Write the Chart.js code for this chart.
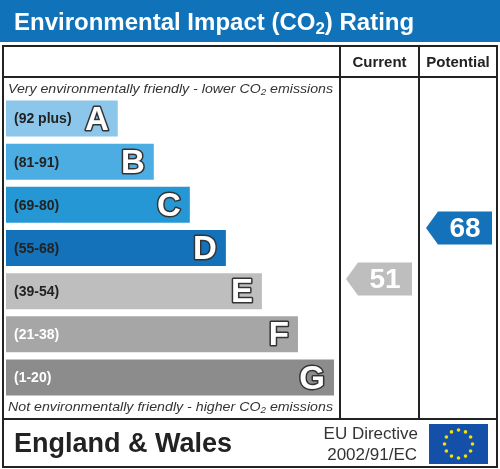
<!DOCTYPE html>
<html>
<head>
<meta charset="utf-8">
<script src="https://cdn.jsdelivr.net/npm/chart.js@4.4.1/dist/chart.umd.min.js"></script>
<style>
  html, body { margin: 0; padding: 0; background: #fff; }
  canvas { display: block; }
</style>
</head>
<body>
<canvas id="co2Chart" width="500" height="469"></canvas>
<script>
// Bands, top (best) to bottom (worst)
const bands = ['A', 'B', 'C', 'D', 'E', 'F', 'G'];
const bandRanges = ['(92 plus)', '(81-91)', '(69-80)', '(55-68)', '(39-54)', '(21-38)', '(1-20)'];
const bandMin = [92, 81, 69, 55, 39, 21, 1];
const bandMax = [100, 91, 80, 68, 54, 38, 20];
const barLengths = [31, 41, 51, 61, 71, 81, 91];
const bandColors = ['#8cc6ea', '#4cade2', '#2497d4', '#1372b9', '#bebebe', '#a6a6a6', '#8c8c8c'];
const rangeTextColors = ['#222', '#222', '#222', '#222', '#222', '#fff', '#fff'];

const currentRating = 51;
const potentialRating = 68;

const FONT = '"Liberation Sans", Arial, sans-serif';

// text with a subscript "2" after the part before it, optionally stretched to a width
function drawSubText(ctx, x, y, before, after, size, style, fitWidth) {
  const big = style + ' ' + size + 'px ' + FONT;
  const small = style + ' ' + Math.round(size * 0.7) + 'px ' + FONT;
  ctx.font = big;
  const w1 = ctx.measureText(before).width;
  const w3 = ctx.measureText(after).width;
  ctx.font = small;
  const w2 = ctx.measureText('2').width;
  const sx = fitWidth ? fitWidth / (w1 + w2 + w3) : 1;
  ctx.save();
  ctx.translate(x, y);
  ctx.scale(sx, 1);
  ctx.font = big;
  ctx.fillText(before, 0, 0);
  ctx.font = small;
  ctx.fillText('2', w1, size * 0.18);
  ctx.font = big;
  ctx.fillText(after, w1 + w2, 0);
  ctx.restore();
}

function bandIndexFor(value) {
  for (let i = 0; i < bands.length; i++) {
    if (value >= bandMin[i] && value <= bandMax[i]) return i;
  }
  return bands.length - 1;
}

function drawArrow(ctx, yScale, value, left, right, color) {
  const i = bandIndexFor(value);
  const pitch = yScale.getPixelForValue(1) - yScale.getPixelForValue(0);
  const bandTop = yScale.getPixelForValue(i) - pitch / 2;
  const frac = (bandMax[i] - value + 0.5) / (bandMax[i] - bandMin[i] + 1);
  const cy = bandTop + frac * pitch;
  const h = 33;
  const tip = 12;
  ctx.fillStyle = color;
  ctx.beginPath();
  ctx.moveTo(left, cy);
  ctx.lineTo(left + tip, cy - h / 2);
  ctx.lineTo(right, cy - h / 2);
  ctx.lineTo(right, cy + h / 2);
  ctx.lineTo(left + tip, cy + h / 2);
  ctx.closePath();
  ctx.fill();
  ctx.fillStyle = '#fff';
  ctx.font = 'bold 28px ' + FONT;
  ctx.textAlign = 'center';
  ctx.textBaseline = 'middle';
  ctx.fillText(String(value), (left + tip + right) / 2, cy + 1);
}

const frame = {
  id: 'frame',
  beforeDraw(chart) {
    const ctx = chart.ctx;
    ctx.save();
    ctx.fillStyle = '#fff';
    ctx.fillRect(0, 0, chart.width, chart.height);

    // title bar
    ctx.fillStyle = '#1072b9';
    ctx.fillRect(0, 0, 500, 42);
    ctx.fillStyle = '#fff';
    ctx.textAlign = 'left';
    ctx.textBaseline = 'alphabetic';
    drawSubText(ctx, 14, 29.5, 'Environmental Impact (CO', ') Rating', 24, 'bold');

    // table lines
    ctx.strokeStyle = '#222';
    ctx.lineWidth = 2;
    ctx.strokeRect(3, 46, 494, 421);
    ctx.beginPath();
    ctx.moveTo(3, 77); ctx.lineTo(497, 77);
    ctx.moveTo(3, 419); ctx.lineTo(497, 419);
    ctx.moveTo(340, 46); ctx.lineTo(340, 419);
    ctx.moveTo(419, 46); ctx.lineTo(419, 419);
    ctx.stroke();

    ctx.fillStyle = '#222';
    ctx.font = 'bold 15px ' + FONT;
    ctx.textAlign = 'center';
    ctx.fillText('Current', 379.5, 67);
    ctx.fillText('Potential', 458, 67);

    ctx.textAlign = 'left';
    ctx.fillStyle = '#333';
    drawSubText(ctx, 8, 93, 'Very environmentally friendly - lower CO', ' emissions', 13, 'italic', 325);
    drawSubText(ctx, 8, 411, 'Not environmentally friendly - higher CO', ' emissions', 13, 'italic', 325);

    // footer
    ctx.fillStyle = '#222';
    ctx.font = 'bold 27px ' + FONT;
    ctx.fillText('England & Wales', 14, 451.5);
    ctx.fillStyle = '#333';
    ctx.font = '17px ' + FONT;
    ctx.textAlign = 'right';
    ctx.fillText('EU Directive', 418, 438.5);
    ctx.fillText('2002/91/EC', 417, 460);

    // EU flag
    ctx.fillStyle = '#1450a8';
    ctx.fillRect(429, 424, 59, 40);
    ctx.fillStyle = '#f5e000';
    for (let k = 0; k < 12; k++) {
      const a = k * Math.PI / 6;
      ctx.beginPath();
      ctx.arc(458.5 + 14 * Math.cos(a), 444 + 14 * Math.sin(a), 1.8, 0, Math.PI * 2);
      ctx.fill();
    }
    ctx.restore();
  },
  afterDatasetsDraw(chart) {
    const ctx = chart.ctx;
    const meta = chart.getDatasetMeta(0);
    ctx.save();
    meta.data.forEach((bar, i) => {
      ctx.textBaseline = 'middle';
      ctx.textAlign = 'left';
      ctx.fillStyle = rangeTextColors[i];
      ctx.font = 'bold 14px ' + FONT;
      ctx.fillText(bandRanges[i], 14, bar.y + 1);

      ctx.textAlign = 'right';
      ctx.font = 'bold 33px ' + FONT;
      ctx.lineWidth = 3;
      ctx.lineJoin = 'round';
      ctx.strokeStyle = '#333';
      ctx.strokeText(bands[i], bar.x - 9, bar.y + 2);
      ctx.fillStyle = '#fff';
      ctx.fillText(bands[i], bar.x - 9, bar.y + 2);
    });
    const yScale = chart.scales.y;
    drawArrow(ctx, yScale, currentRating, 346, 412, '#bebebe');
    drawArrow(ctx, yScale, potentialRating, 426, 492, '#1372b9');
    ctx.restore();
  }
};

const ctx = document.getElementById('co2Chart').getContext('2d');
new Chart(ctx, {
  type: 'bar',
  data: {
    labels: bands,
    datasets: [
      {
        label: 'CO2 rating band',
        data: barLengths,
        backgroundColor: bandColors,
        borderWidth: 0,
        barPercentage: 0.835,
        categoryPercentage: 1,
      },
    ],
  },
  options: {
    indexAxis: 'y',
    responsive: false,
    maintainAspectRatio: false,
    animation: false,
    layout: { padding: { left: 6, right: 166, top: 97, bottom: 70 } },
    scales: {
      x: { display: false, min: 0, max: 91 },
      y: { display: false },
    },
    plugins: {
      legend: { display: false },
      tooltip: { enabled: false },
    },
  },
  plugins: [frame],
});
</script>
</body>
</html>
